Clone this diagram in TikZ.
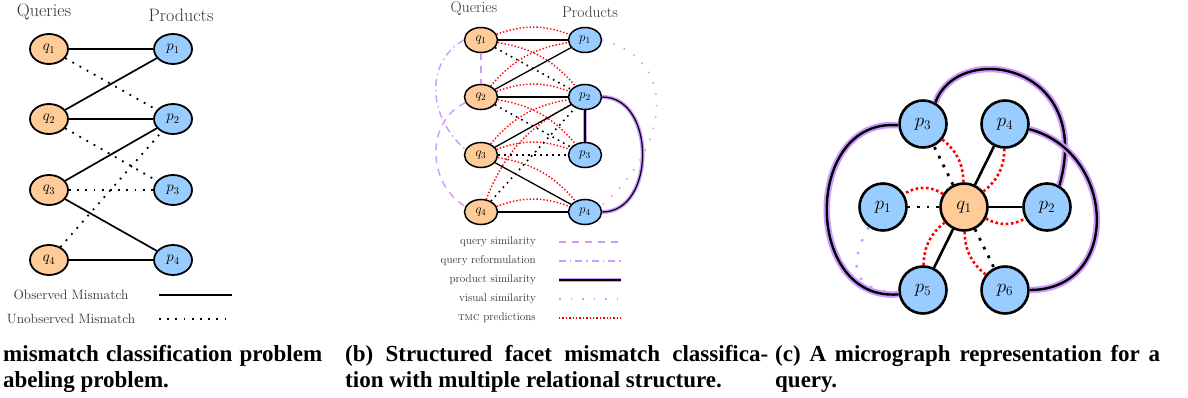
\RequirePackage{fix-cm}
\documentclass[tikz,border=0pt]{standalone}
\usepackage{fontspec}
\newfontfamily\captionfont{Liberation Serif}
\usepackage{xcolor}
\definecolor{QueryPeach}{HTML}{FFCC99}
\definecolor{ProductSky}{HTML}{99CCFF}
\definecolor{FacetLilac}{HTML}{CC99FF}
\usepackage{tikz}
\usetikzlibrary{arrows.meta,positioning,shapes.geometric,calc}

\begin{document}
\begin{tikzpicture}[x=1pt,y=-1pt,
  querya/.style={ellipse,draw,line width=1.8pt,fill=QueryPeach,minimum width=38pt,minimum height=30pt,inner sep=0pt,font=\fontsize{15}{15}\selectfont},
  producta/.style={querya,fill=ProductSky},
  queryb/.style={ellipse,draw,line width=1.5pt,fill=QueryPeach,minimum width=33pt,minimum height=25pt,inner sep=0pt,font=\fontsize{13}{13}\selectfont},
  productb/.style={queryb,fill=ProductSky},
  queryc/.style={circle,draw,line width=2.6pt,fill=QueryPeach,minimum size=47pt,inner sep=0pt,font=\fontsize{19}{19}\selectfont},
  productc/.style={queryc,fill=ProductSky},
  heada/.style={font=\fontsize{18}{18}\selectfont,text=black!80},
  headb/.style={font=\fontsize{15.5}{15.5}\selectfont,text=black!80},
  legenda/.style={font=\fontsize{13.5}{13.5}\selectfont,text=black!80},
  legendb/.style={font=\fontsize{11.2}{11.2}\selectfont,text=black!80,anchor=east,inner sep=0pt},
  capline/.style={font=\captionfont\bfseries\fontsize{23}{23}\selectfont,anchor=base west,inner sep=0pt},
  observed/.style={line width=1.7pt},
  unobserved/.style={line width=1.8pt,dash pattern=on 1.8pt off 6.4pt},
  observedb/.style={line width=1.3pt},
  unobservedb/.style={line width=1.6pt,dash pattern=on 1.6pt off 4.4pt},
  tmc/.style={red,line width=1.4pt,dash pattern=on 1.4pt off 2pt},
  querysim/.style={FacetLilac,line width=1.4pt,dash pattern=on 7pt off 6pt},
  queryref/.style={FacetLilac,line width=1.4pt,dash pattern=on 7pt off 4pt on 1.4pt off 4pt},
  productsim/.style={line width=1.2pt,preaction={draw=FacetLilac,line width=4pt}},
  visualsim/.style={FacetLilac,line width=1.5pt,dash pattern=on 1.5pt off 10pt},
  observedc/.style={line width=2.6pt},
  unobservedc/.style={line width=2.8pt,dash pattern=on 2.8pt off 7pt},
  tmcc/.style={red,line width=2.6pt,dash pattern=on 2.6pt off 2.6pt},
  productsimc/.style={line width=2.4pt,preaction={draw=FacetLilac,line width=6.5pt}},
  visualsimc/.style={FacetLilac,line width=2.4pt,dash pattern=on 2.4pt off 11pt}
]
\useasboundingbox (0,0) rectangle (1188,398);

\node[heada] (aqueries) at (44,12) {Queries};
\node[heada] (aproducts) at (181,15) {Products};
\node[querya] (aq1) at (49,49) {$q_1$};
\node[querya] (aq2) at (49,119) {$q_2$};
\node[querya] (aq3) at (49,190) {$q_3$};
\node[querya] (aq4) at (49,260) {$q_4$};
\node[producta] (ap1) at (173,49) {$p_1$};
\node[producta] (ap2) at (173,119) {$p_2$};
\node[producta] (ap3) at (173,190) {$p_3$};
\node[producta] (ap4) at (173,260) {$p_4$};
\draw[observed] (aq1) -- (ap1);
\draw[observed] (aq2) -- (ap1);
\draw[observed] (aq2) -- (ap2);
\draw[observed] (aq3) -- (ap2);
\draw[observed] (aq3) -- (ap4);
\draw[observed] (aq4) -- (ap4);
\draw[unobserved] (aq1) -- (ap2);
\draw[unobserved] (aq2) -- (ap3);
\draw[unobserved] (aq3) -- (ap3);
\draw[unobserved] (aq4) -- (ap2);
\node[legenda] (aobs) at (71,295) {Observed Mismatch};
\node[legenda] (aunobs) at (71,319) {Unobserved Mismatch};
\coordinate (aobsl) at (159,295);
\coordinate (aobsr) at (232,295);
\coordinate (aunobsl) at (159,319);
\coordinate (aunobsr) at (232,319);
\draw[observed] (aobsl) -- (aobsr);
\draw[unobserved] (aunobsl) -- (aunobsr);

\node[headb] (bqueries) at (474,9) {Queries};
\node[headb] (bproducts) at (590,12) {Products};
\node[queryb] (bq1) at (481,40) {$q_1$};
\node[queryb] (bq2) at (481,97) {$q_2$};
\node[queryb] (bq3) at (481,155) {$q_3$};
\node[queryb] (bq4) at (481,212) {$q_4$};
\node[productb] (bp1) at (585,40) {$p_1$};
\node[productb] (bp2) at (585,97) {$p_2$};
\node[productb] (bp3) at (585,155) {$p_3$};
\node[productb] (bp4) at (585,212) {$p_4$};
\draw[querysim] (bq1) -- (bq2);
\draw[querysim] (bq2.200) to[out=205,in=150,looseness=1.1] (bq4.160);
\draw[queryref] (bq1.west) to[out=210,in=140,looseness=1.1] (bq3.160);
\draw[productsim] (bp2) -- (bp3);
\draw[productsim] (bp2.east) to[out=0,in=0,looseness=1.2] (bp4.east);
\draw[visualsim] (bp1.east) to[out=-15,in=40,looseness=1.3] (bp4.20);
\draw[tmc] (bq1) to[bend left=20] (bp1);
\draw[tmc] (bq1) to[bend left=20] (bp2);
\draw[tmc] (bq2) to[bend left=20] (bp1);
\draw[tmc] (bq2) to[bend left=20] (bp2);
\draw[tmc] (bq2) to[bend left=20] (bp3);
\draw[tmc] (bq3) to[bend left=20] (bp2);
\draw[tmc] (bq3) to[bend left=20] (bp3);
\draw[tmc] (bq3) to[bend left=20] (bp4);
\draw[tmc] (bq4) to[bend left=20] (bp2);
\draw[tmc] (bq4) to[bend left=20] (bp4);
\draw[observedb] (bq1) -- (bp1);
\draw[observedb] (bq2) -- (bp1);
\draw[observedb] (bq2) -- (bp2);
\draw[observedb] (bq3) -- (bp2);
\draw[observedb] (bq3) -- (bp4);
\draw[observedb] (bq4) -- (bp4);
\draw[unobservedb] (bq1) -- (bp2);
\draw[unobservedb] (bq2) -- (bp3);
\draw[unobservedb] (bq3) -- (bp3);
\draw[unobservedb] (bq4) -- (bp2);
\node[legendb] (bqs) at (536,242) {query similarity};
\node[legendb] (bqr) at (536,261) {query reformulation};
\node[legendb] (bps) at (536,280) {product similarity};
\node[legendb] (bvs) at (536,299) {visual similarity};
\node[legendb] (btmc) at (536,318) {\textsc{tmc} predictions};
\coordinate (bqsl) at (559,242);
\coordinate (bqsr) at (621,242);
\coordinate (bqrl) at (559,261);
\coordinate (bqrr) at (621,261);
\coordinate (bpsl) at (559,280);
\coordinate (bpsr) at (621,280);
\coordinate (bvsl) at (559,299);
\coordinate (bvsr) at (621,299);
\coordinate (btmcl) at (559,318);
\coordinate (btmcr) at (621,318);
\draw[querysim] (bqsl) -- (bqsr);
\draw[queryref] (bqrl) -- (bqrr);
\draw[productsim] (bpsl) -- (bpsr);
\draw[visualsim] (bvsl) -- (bvsr);
\draw[tmc] (btmcl) -- (btmcr);

\node[queryc] (cq1) at (964,207) {$q_1$};
\node[productc] (cp1) at (883,207) {$p_1$};
\node[productc] (cp2) at (1047,207) {$p_2$};
\node[productc] (cp3) at (923,124) {$p_3$};
\node[productc] (cp4) at (1005,124) {$p_4$};
\node[productc] (cp5) at (923,290) {$p_5$};
\node[productc] (cp6) at (1005,290) {$p_6$};
\draw[productsimc] (cp3.183) to[out=175,in=185,looseness=1.45] (cp5.190);
\draw[productsimc] (cp3.60) .. controls +(22,-62) and +(35,-123) .. (cp2.60);
\draw[productsimc] (cp4.-12) to[out=-15,in=0,looseness=1.45] (cp6.east);
\draw[visualsimc] (cp1.235) to[out=-120,in=180,looseness=1.6] (cp5.185);
\draw[unobservedc] (cq1) -- (cp1);
\draw[observedc] (cq1) -- (cp2);
\draw[unobservedc] (cq1) -- (cp3);
\draw[observedc] (cq1) -- (cp4);
\draw[observedc] (cq1) -- (cp5);
\draw[unobservedc] (cq1) -- (cp6);
\draw[tmcc] (cq1) to[bend right=32] (cp1);
\draw[tmcc] (cq1) to[bend right=28] (cp2);
\draw[tmcc] (cq1) to[bend right=25] (cp3);
\draw[tmcc] (cq1) to[bend right=25] (cp4);
\draw[tmcc] (cq1) to[bend right=25] (cp5);
\draw[tmcc] (cq1) to[bend right=25] (cp6);

\node[capline] (capa1) at (3,361) {\makebox[319pt][s]{mismatch classification problem}};
\node[capline] (capa2) at (3,387) {abeling problem.};
\node[capline] (capb1) at (345,361) {\makebox[423pt][s]{(b) Structured facet mismatch classifica-}};
\node[capline] (capb2) at (345,387) {tion with multiple relational structure.};
\node[capline] (capc1) at (775,361) {\makebox[385pt][s]{(c) A micrograph representation for a}};
\node[capline] (capc2) at (775,387) {query.};
\end{tikzpicture}
\end{document}
